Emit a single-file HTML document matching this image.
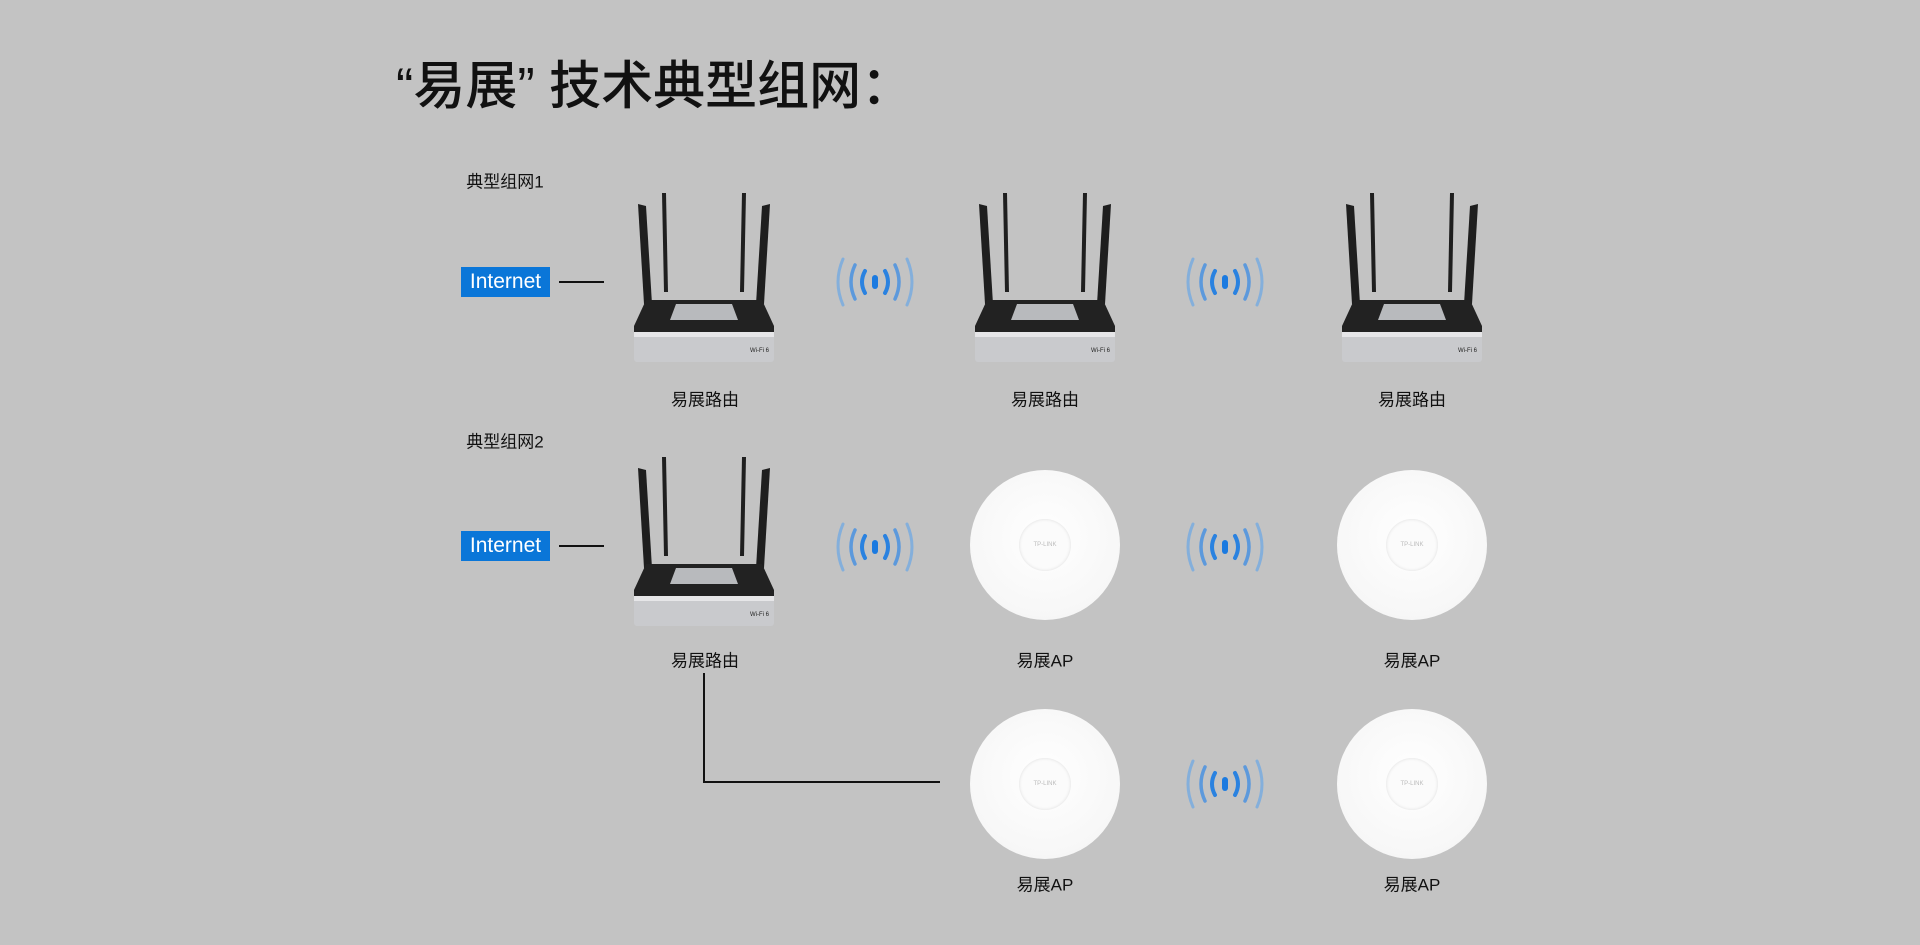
<!DOCTYPE html>
<html><head><meta charset="utf-8"><style>
body{margin:0;width:1920px;height:945px;background:#c3c3c3;position:relative;overflow:hidden;font-family:"Liberation Sans","Noto Sans CJK SC",sans-serif;color:#111}
.t{position:absolute;white-space:nowrap}
.lbl{position:absolute;font-size:17px;transform:translate(-50%,-50%);white-space:nowrap}
.inet{position:absolute;background:#0a76d8;color:#fff;font-size:21px;width:89px;height:30px;line-height:30px;text-align:center}
.ln{position:absolute;background:#111}
.ap{position:absolute;width:150px;height:150px;border-radius:50%;background:radial-gradient(circle at 50% 45%,#fff 0%,#f7f7f7 70%,#ececec 100%);transform:translate(-50%,-50%)}
.ap::after{content:"TP-LINK";position:absolute;left:50%;top:50%;width:52px;height:52px;margin:-26px;border-radius:50%;background:#fbfbfb;box-shadow:0 0 3px #ddd inset;font-size:6px;color:#bbb;text-align:center;line-height:52px}
svg{position:absolute}
</style></head><body>
<div class="t" style="left:396px;top:44px;font-size:52px;font-weight:500;font-family:'Liberation Sans','Noto Sans CJK SC',sans-serif;">“易展” 技术典型组网：</div>

<div class="lbl" style="left:505px;top:180px">典型组网1</div>
<div class="lbl" style="left:505px;top:440px">典型组网2</div>

<div class="inet" style="left:461px;top:267px">Internet</div>
<div class="ln" style="left:559px;top:281px;width:45px;height:2px"></div>
<div class="inet" style="left:461px;top:531px">Internet</div>
<div class="ln" style="left:559px;top:545px;width:45px;height:2px"></div>

<svg width="0" height="0"><defs>
<g id="rt">
<polygon points="-66,-78 -58,-76 -52,22 -60,22" fill="#1e1e1e"/>
<polygon points="-42,-89 -38,-89 -36,10 -40,10" fill="#1e1e1e"/>
<polygon points="38,-89 42,-89 40,10 36,10" fill="#1e1e1e"/>
<polygon points="58,-76 66,-78 60,22 52,22" fill="#1e1e1e"/>
<path d="M-58,18 L58,18 L70,44 L70,50 L-70,50 L-70,44 Z" fill="#222"/>
<rect x="-70" y="50" width="140" height="30" rx="3" fill="#c9cacd"/>
<rect x="-70" y="50" width="140" height="5" fill="#e6e6e8"/>
<path d="M-28,22 L28,22 L34,38 L-34,38 Z" fill="#b8babd"/>
<text x="46" y="70" font-size="6" fill="#222" font-family="Liberation Sans">Wi-Fi 6</text>
</g>
<g id="wf" fill="none" stroke-linecap="round">
<rect x="-3" y="-7" width="6" height="14" rx="3" fill="#1b7ae0" stroke="none"/>
<path d="M10,-11 Q16,0 10,11 M-10,-11 Q-16,0 -10,11" stroke="#2a82e0" stroke-width="4"/>
<path d="M20,-17 Q28,0 20,17 M-20,-17 Q-28,0 -20,17" stroke="#4a92e0" stroke-width="3.5" opacity=".85"/>
<path d="M32,-23 Q42,0 32,23 M-32,-23 Q-42,0 -32,23" stroke="#6aa6e6" stroke-width="3" opacity=".7"/>
</g></defs></svg>

<svg width="1920" height="945" style="left:0;top:0">
<use href="#rt" x="704" y="282"/>
<use href="#rt" x="1045" y="282"/>
<use href="#rt" x="1412" y="282"/>
<use href="#rt" x="704" y="546"/>
<use href="#wf" x="875" y="282"/>
<use href="#wf" x="1225" y="282"/>
<use href="#wf" x="875" y="547"/>
<use href="#wf" x="1225" y="547"/>
<use href="#wf" x="1225" y="784"/>
<path d="M704,673 V782 H940" fill="none" stroke="#111" stroke-width="2"/>
</svg>

<div class="ap" style="left:1045px;top:545px"></div>
<div class="ap" style="left:1412px;top:545px"></div>
<div class="ap" style="left:1045px;top:784px"></div>
<div class="ap" style="left:1412px;top:784px"></div>

<div class="lbl" style="left:705px;top:398px">易展路由</div>
<div class="lbl" style="left:1045px;top:398px">易展路由</div>
<div class="lbl" style="left:1412px;top:398px">易展路由</div>
<div class="lbl" style="left:705px;top:659px">易展路由</div>
<div class="lbl" style="left:1045px;top:659px">易展AP</div>
<div class="lbl" style="left:1412px;top:659px">易展AP</div>
<div class="lbl" style="left:1045px;top:883px">易展AP</div>
<div class="lbl" style="left:1412px;top:883px">易展AP</div>
</body></html>
